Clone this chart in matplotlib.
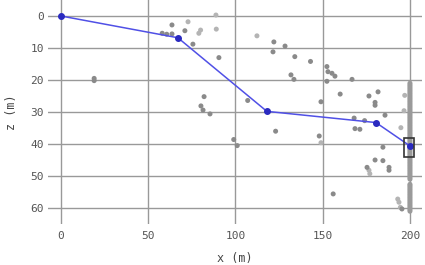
import matplotlib
matplotlib.use("Agg")
import matplotlib.pyplot as plt
from matplotlib.patches import Rectangle

# pontos cinza escuros (x, z)
dark_x = [19, 19, 63.6, 71, 58, 60.6, 63.6, 75.6, 90.5, 82, 80.2, 81.4, 85.4,
          122, 121.5, 128.4, 134, 143, 131.8, 133.5, 152.4, 153, 155.3, 157,
          152.4, 166.8, 107, 160, 149, 176.5, 181.7, 180, 180, 185.7, 168, 174,
          168.5, 171.3, 123, 99, 101, 148, 184.5, 180, 184.5, 175.4, 188, 188,
          156, 195.4]
dark_z = [19.5, 20.2, 2.8, 4.6, 5.4, 5.7, 5.6, 8.8, 13, 25.2, 28.1, 29.4, 30.6,
          8.1, 11.2, 9.4, 12.7, 14.2, 18.4, 19.8, 15.8, 17.4, 17.9, 18.8,
          20.4, 19.8, 26.4, 24.4, 26.8, 25, 23.7, 27, 27.9, 31, 31.9, 32.7,
          35.2, 35.4, 36, 38.6, 40.5, 37.5, 41, 45, 45.2, 47.3, 47.3, 48.2,
          55.6, 60.3]

# pontos cinza claros
light_x = [72.8, 88.8, 80, 79, 89, 112.3, 197, 196.6, 194.8, 149, 176.5, 177,
           193, 193.7, 194.5]
light_z = [1.8, -0.3, 4.4, 5.4, 4.1, 6.2, 24.8, 29.6, 34.9, 39.6, 48.2, 49.3,
           57.2, 58.2, 59.8]

# coluna em x = 200
col_z = [21, 21.5, 22, 22.5, 23, 23.5, 24, 24.5, 25, 25.5, 26, 26.5, 27, 27.5,
         28, 28.5, 29, 29.5, 30, 30.5, 31, 31.5, 32, 32.5, 33, 33.5, 34, 34.5,
         35, 35.5, 36, 36.5, 37, 37.5, 38, 38.5, 39, 39.5, 40, 40.5, 41, 41.5,
         42, 42.5, 43, 43.5, 44, 44.5, 45, 45.5, 46, 46.5, 47, 47.5, 48, 48.5,
         49, 49.5, 50, 50.5, 51, 52.6, 53, 53.5, 54, 54.5, 55, 55.5, 56, 56.5,
         57, 57.5, 58, 58.5, 59, 59.5, 60, 60.5, 61]

# trajetoria
path_x = [0, 67, 118, 180.5, 200]
path_z = [0, 6.8, 29.8, 33.3, 40.6]

box_x, box_z = 199.5, 41  # centro do retangulo
box_w, box_h = 5.6, 6.0

plt.rcParams['font.family'] = ['DejaVu Sans Mono']

fig = plt.figure(figsize=(4.25, 2.65), dpi=100)
ax = fig.add_axes([48/425, 41/265, 374/425, 224/265])

for v in [0, 50, 100, 150, 200]:
    ax.axvline(v, color='#999999', lw=1, zorder=0)
for v in [0, 10, 20, 30, 40, 50, 60]:
    ax.axhline(v, color='#999999', lw=1, zorder=0)

ax.scatter(light_x, light_z, s=13, color='#b4b4b4', edgecolors='none', zorder=2)
ax.scatter(dark_x, dark_z, s=13, color='#8a8a8a', edgecolors='none', zorder=2)
ax.scatter([200] * len(col_z), col_z, s=13, color='#9a9a9a', edgecolors='none', zorder=2)

ax.plot(path_x, path_z, color='#5050e6', lw=1.1, zorder=3)
ax.plot(path_x, path_z, 'o', color='#2a2ac0', ms=4, zorder=4)

ax.add_patch(Rectangle((box_x - box_w/2, box_z - box_h/2), box_w, box_h,
                       fill=False, ec='#333333', lw=1.2, zorder=5))

ax.set_xlim(-7.45, 206.9)
ax.set_ylim(65, -5)
ax.set_xticks([0, 50, 100, 150, 200])
ax.set_yticks([0, 10, 20, 30, 40, 50, 60])
ax.tick_params(length=0, labelsize=8, labelcolor='#555555')
ax.tick_params(axis='x', pad=5)
ax.tick_params(axis='y', pad=3)
for s in ax.spines.values():
    s.set_visible(False)

ax.set_xlabel('x (m)', fontsize=8.5, color='#444444', labelpad=8)
ax.set_ylabel('z (m)', fontsize=8.5, color='#444444', labelpad=9)

fig.savefig('out.png', dpi=100)
